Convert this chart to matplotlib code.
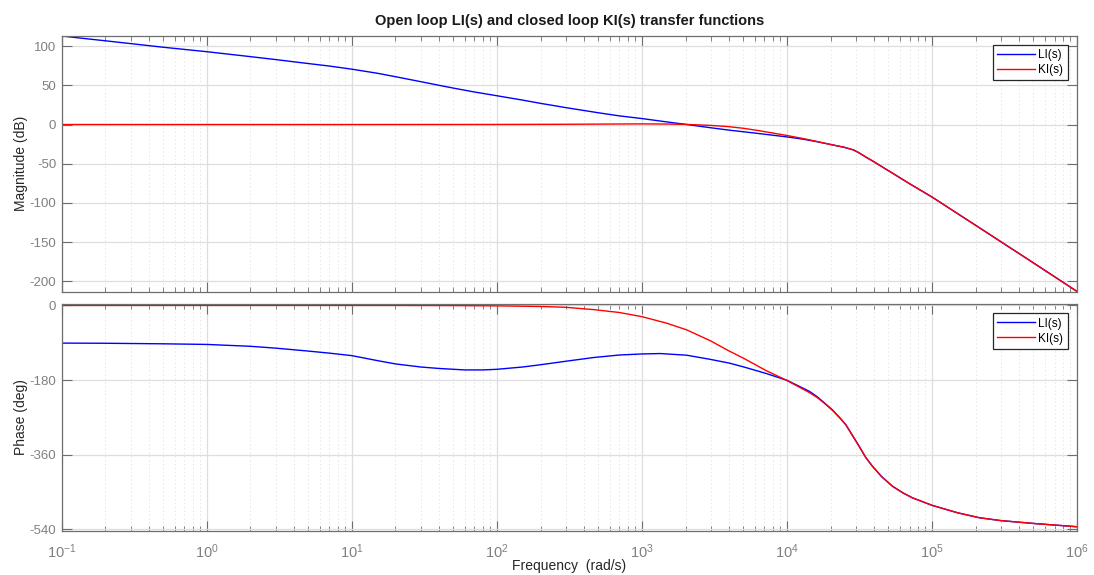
import matplotlib
matplotlib.use("Agg")
import matplotlib.pyplot as plt
import numpy as np

# ---- data ----
w_li_mag = [0.1, 0.2, 0.3, 0.5, 1, 2, 3, 5, 7, 10, 15, 20, 30, 40, 50, 70, 100, 150, 200,
            300, 500, 700, 1000, 1500, 2000, 3000, 4000, 6000, 10000, 13000, 16000, 20000,
            25000, 28700, 31000, 35000, 40000, 47000, 55000, 70000, 100000, 200000, 300000,
            500000, 1e6]
li_mag = [112.9, 106.8, 103.2, 98.6, 92.9, 86.6, 82.8, 77.8, 74.6, 70.6, 65.4, 61.0, 54.6,
          50.0, 46.5, 41.5, 36.7, 31.2, 27.0, 21.5, 15.0, 11.0, 7.6, 3.2, 0.2, -4.2, -7.2,
          -10.9, -15.8, -18.8, -21.8, -25.5, -29.2, -32.4, -35.5, -41.5, -47.8, -55.8, -63.5,
          -75.5, -92.5, -128.6, -149.8, -176.5, -213.0]

w_ki_mag = [0.1, 1, 10, 100, 300, 600, 1000, 1500, 2000, 3000, 3860, 5000, 6500, 10000,
            13000, 16000, 20000, 25000, 28700, 31000, 35000, 40000, 47000, 55000, 70000,
            100000, 200000, 300000, 500000, 1e6]
ki_mag = [0.0, 0.0, 0.0, 0.1, 0.3, 0.6, 0.8, 0.6, 0.2, -1.2, -2.5, -4.8, -8.0, -14.0,
          -18.0, -21.5, -25.5, -29.2, -32.4, -35.5, -41.5, -47.8, -55.8, -63.5, -75.5,
          -92.5, -128.6, -149.8, -176.5, -213.0]

w_li_ph = [0.1, 0.2, 0.5, 1, 2, 3, 5, 7, 10, 15, 20, 30, 40, 60, 80, 100, 150, 200, 300,
           464, 700, 1000, 1340, 2040, 2960, 4000, 5000, 7180, 10000, 14260, 16000, 18000,
           20600, 23000, 25500, 28000, 31500, 35000, 38900, 45000, 53400, 63000, 73300,
           100000, 150000, 212000, 300000, 510000, 1e6]
li_ph = [-90.8, -91.2, -92.5, -94.0, -98.5, -103.0, -110.0, -115.0, -121.0, -133.0, -141.0,
         -148.5, -152.0, -155.5, -155.5, -154.0, -148.5, -143.0, -134.5, -125.6, -119.5,
         -117.0, -116.0, -120.0, -130.0, -139.0, -148.0, -164.0, -180.5, -207.0, -219.0,
         -234.0, -252.0, -270.0, -288.0, -311.0, -340.0, -367.0, -388.0, -413.0, -436.0,
         -452.0, -464.0, -482.0, -500.0, -512.0, -519.0, -526.0, -533.7]

w_ki_ph = [0.1, 1, 10, 20, 50, 100, 200, 300, 464, 700, 1000, 1490, 2040, 2960, 4000, 5000,
           7180, 10000, 14260, 16000, 18000, 20600, 23000, 25500, 28000, 31500, 35000,
           38900, 45000, 53400, 63000, 73300, 100000, 150000, 212000, 300000, 510000, 1e6]
ki_ph = [0.0, 0.0, 0.0, 0.0, -0.3, -1.0, -2.5, -4.5, -10.0, -17.0, -27.0, -43.0, -59.0,
         -85.0, -110.0, -127.0, -157.0, -181.0, -210.0, -221.0, -235.0, -253.0, -270.0,
         -288.0, -311.0, -340.0, -367.0, -388.0, -413.0, -436.0, -452.0, -464.0, -482.0,
         -500.0, -512.0, -519.0, -526.0, -533.7]

x_ticks = [1e-1, 1e0, 1e1, 1e2, 1e3, 1e4, 1e5, 1e6]
x_ticklabels = [r"$10^{-1}$", r"$10^{0}$", r"$10^{1}$", r"$10^{2}$", r"$10^{3}$",
                r"$10^{4}$", r"$10^{5}$", r"$10^{6}$"]
mag_ticks = [-200, -150, -100, -50, 0, 50, 100]
ph_ticks = [-540, -360, -180, 0]
legend_labels = ["LI(s)", "KI(s)"]

# ---- style ----
plt.rcParams['font.family'] = ['Liberation Sans', 'DejaVu Sans']
plt.rcParams['mathtext.fontset'] = 'custom'
plt.rcParams['mathtext.rm'] = 'Liberation Sans'
plt.rcParams['mathtext.it'] = 'Liberation Sans'
plt.rcParams['mathtext.default'] = 'regular'
plt.rcParams['axes.unicode_minus'] = False

tick_col = '#808080'
edge_col = '#6e6e6e'
grid_col = '#dedede'

fig = plt.figure(figsize=(10.94, 5.75), dpi=100)
ax1 = fig.add_axes([0.0564, 0.4927, 0.9281, 0.4452])
ax2 = fig.add_axes([0.0564, 0.0765, 0.9281, 0.3948])


def style(ax):
    ax.set_xscale('log')
    ax.set_xlim(1e-1, 1e6)
    ax.set_xticks(x_ticks)
    ax.xaxis.set_minor_locator(matplotlib.ticker.LogLocator(base=10, subs=np.arange(2, 10), numticks=100))
    ax.xaxis.set_minor_formatter(matplotlib.ticker.NullFormatter())
    ax.tick_params(which='both', direction='in', top=True, right=True,
                   colors=edge_col, labelcolor=tick_col, labelsize=9.5)
    ax.tick_params(which='major', length=7, width=0.8, pad=4)
    ax.tick_params(axis='x', which='major', pad=8, labelsize=10.5)
    ax.tick_params(which='minor', length=3.5, width=0.6)
    ax.grid(True, which='major', color=grid_col, linewidth=0.9, linestyle='-')
    ax.grid(True, which='minor', axis='x', color='#e6e6e6', linewidth=0.7, linestyle=(0, (1.5, 2.5)))
    ax.set_axisbelow(True)
    for s in ax.spines.values():
        s.set_color(edge_col)
        s.set_linewidth(0.9)


style(ax1)
style(ax2)

ax1.plot(w_li_mag, li_mag, color='#0000ff', lw=1.0, label=legend_labels[0])
ax1.plot(w_ki_mag, ki_mag, color='#ff0000', lw=1.0, label=legend_labels[1])
ax1.set_ylim(-213.3, 113.3)
ax1.set_yticks(mag_ticks)
ax1.set_xticklabels([])
ax1.set_ylabel("Magnitude (dB)", fontsize=10, color='#262626', labelpad=1)
ax1.set_title("Open loop LI(s) and closed loop KI(s) transfer functions",
              fontsize=10.5, fontweight='bold', color='#1a1a1a', pad=8)

ax2.plot(w_li_ph, li_ph, color='#0000ff', lw=1.0, label=legend_labels[0])
ax2.plot(w_ki_ph, ki_ph, color='#ff0000', lw=1.0, label=legend_labels[1])
ax2.set_ylim(-544, 3.5)
ax2.set_yticks(ph_ticks)
ax2.set_xticklabels(x_ticklabels)
ax2.set_ylabel("Phase (deg)", fontsize=10, color='#262626', labelpad=1)
ax2.set_xlabel("Frequency  (rad/s)", fontsize=10, color='#262626', labelpad=-1)

for ax in (ax1, ax2):
    leg = ax.legend(loc='upper right', fontsize=8.5, handlelength=3.2, handletextpad=0.3,
                    borderpad=0.35, labelspacing=0.25, borderaxespad=0.8, fancybox=False,
                    framealpha=1, edgecolor='#262626')
    leg.get_frame().set_linewidth(0.9)

fig.savefig("out.png", dpi=100)
